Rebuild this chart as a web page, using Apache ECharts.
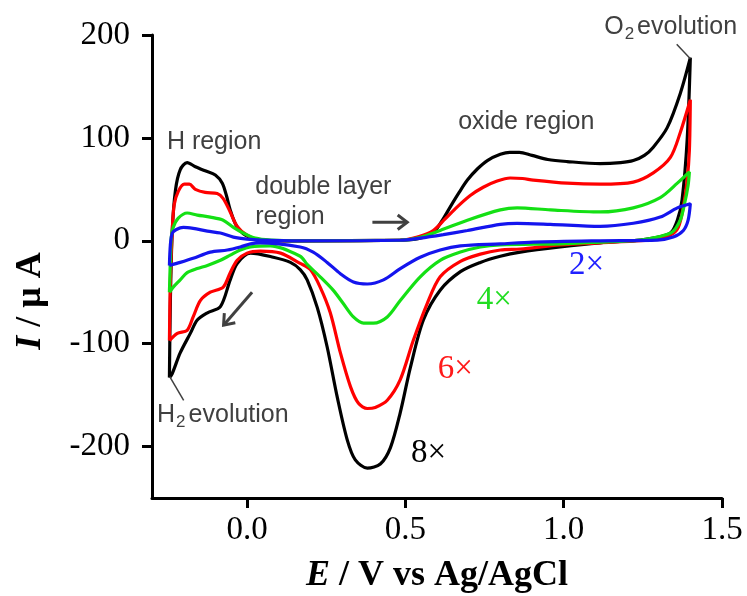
<!DOCTYPE html>
<html>
<head>
<meta charset="utf-8">
<script src="https://cdn.jsdelivr.net/npm/echarts@6/dist/echarts.min.js"></script>
<style>
  html, body { margin: 0; padding: 0; background: #fff; }
  #cv { width: 747px; height: 596px; }
</style>
</head>
<body>
<div id="cv"></div>
<script>
// tick values
var xTicks = [0, 0.5, 1.0, 1.5];
var yTicks = [-200, -100, 0, 100, 200];

// CV loops, [E (V), I (uA)], anodic sweep then cathodic sweep
var curve8x = [
  [-0.245,-133],[-0.242,-58],[-0.236,10],[-0.226,49],[-0.211,69],[-0.189,76],[-0.163,72],[-0.132,68],
  [-0.100,64],[-0.078,56],[-0.065,44],[-0.053,30],[-0.034,15],[-0.005,5.5],[0.042,0.7],[0.168,0],
  [0.484,0.7],[0.540,2],[0.588,8],[0.615,19],[0.642,33],[0.670,47],[0.696,59],[0.728,70],[0.759,78],
  [0.800,84],[0.830,86],[0.860,86],[0.900,83],[0.950,79],[1.011,77],[1.115,75],[1.180,76],[1.220,78],
  [1.255,83],[1.283,91],[1.327,110],[1.368,143],[1.400,178],
  [1.390,98],[1.374,40],[1.359,20],[1.337,7.5],[1.283,2.6],[1.242,0.7],[1.115,-2],[0.989,-6],
  [0.863,-11],[0.800,-15],[0.737,-21],[0.674,-30],[0.610,-48],[0.557,-77],[0.516,-123],[0.484,-167],
  [0.453,-201],[0.421,-217],[0.380,-221],[0.342,-213],[0.317,-194],[0.285,-152],[0.253,-103],
  [0.222,-65],[0.190,-38],[0.168,-28],[0.137,-21],[0.083,-16],[0.011,-12],[-0.031,-22],[-0.053,-38],
  [-0.084,-64],[-0.125,-70],[-0.157,-77],[-0.179,-90],[-0.211,-109],[-0.236,-129],[-0.245,-133]
];
var curve6x = [
  [-0.245,-97],[-0.242,-38],[-0.236,10],[-0.230,35],[-0.217,48],[-0.198,55],[-0.182,55],[-0.163,50],
  [-0.132,47],[-0.094,46],[-0.075,41],[-0.053,28],[-0.031,14],[0,5.5],[0.042,0.7],[0.168,0],
  [0.484,0.5],[0.538,3.6],[0.588,10],[0.625,21],[0.664,33],[0.705,44],[0.746,52],[0.790,58],[0.831,61],
  [0.870,60.5],[0.904,59],[1.011,56],[1.115,55],[1.220,57],[1.283,66],[1.337,81],[1.368,105],[1.400,137],
  [1.397,88],[1.390,59],[1.378,33],[1.362,13],[1.337,5.5],[1.290,1.6],[1.242,0],[1.115,-2],
  [0.989,-4],[0.863,-8],[0.800,-9],[0.737,-13],[0.674,-20],[0.610,-35],[0.569,-61],[0.525,-97],
  [0.484,-135],[0.443,-155],[0.405,-162],[0.380,-163],[0.352,-158],[0.327,-142],[0.295,-109],
  [0.263,-70],[0.231,-45],[0.200,-28],[0.168,-22],[0.106,-12],[0.042,-10],[0,-12],[-0.031,-19],
  [-0.053,-31],[-0.075,-45],[-0.116,-50],[-0.147,-58],[-0.170,-74],[-0.189,-87],[-0.220,-90],[-0.245,-97]
];
var curve4x = [
  [-0.245,-50],[-0.242,-19],[-0.239,3.6],[-0.233,13],[-0.217,22],[-0.189,27],[-0.157,25],[-0.116,23],
  [-0.075,20],[-0.043,13],[-0.012,7.5],[0.026,2.6],[0.074,0.7],[0.168,0],[0.484,0.5],[0.538,2.6],
  [0.610,10],[0.696,20],[0.800,30],[0.853,32],[0.958,30],[1.115,28],[1.220,32],[1.305,42],[1.359,56],[1.397,67],
  [1.393,54],[1.381,35],[1.368,20],[1.343,8.5],[1.296,3.6],[1.242,0.7],[1.115,-1.3],[0.989,-3],
  [0.800,-4],[0.737,-6],[0.674,-11],[0.610,-19],[0.547,-35],[0.484,-58],[0.443,-74],[0.399,-80],
  [0.368,-80],[0.336,-74],[0.304,-61],[0.272,-48],[0.231,-35],[0.190,-23],[0.168,-15],[0.074,-5],
  [0.011,-6],[-0.021,-9],[-0.053,-14],[-0.084,-19],[-0.125,-24],[-0.157,-27],[-0.189,-31],
  [-0.211,-38],[-0.233,-45],[-0.245,-50]
];
var curve2x = [
  [-0.245,-24],[-0.242,-4],[-0.236,7.5],[-0.223,11],[-0.201,13],[-0.170,12],[-0.125,9.4],[-0.084,7.5],
  [-0.043,3.6],[0,1.6],[0.042,0.7],[0.168,0],[0.484,0.5],[0.547,2.6],[0.620,6],[0.696,10],[0.800,16],
  [0.853,17],[0.958,16],[1.115,14],[1.220,17],[1.305,23],[1.359,32],[1.400,36],
  [1.393,20],[1.378,10],[1.346,3.6],[1.296,0.7],[1.115,0],[0.904,-1.3],[0.800,-3],[0.674,-5],
  [0.610,-9],[0.547,-16],[0.484,-27],[0.431,-38],[0.380,-42],[0.336,-40],[0.295,-32],[0.253,-21],
  [0.209,-11],[0.168,-6],[0.042,-2],[0.011,-3],[-0.021,-6],[-0.062,-9],[-0.116,-11],[-0.170,-17],
  [-0.211,-21],[-0.245,-24]
];

var curveNames = ['8×', '6×', '4×', '2×'];
var curveColors = ['#000000', '#ff0000', '#14e014', '#1414ee'];
var curveLabelColors = ['#000000', '#ff1a1a', '#22dd22', '#2020ff'];
// label anchors [E, I]
var curveLabelPos = [[0.573, -207], [0.658, -125], [0.781, -58], [1.072, -24]];

var serif = '"Liberation Serif", "Times New Roman", serif';
var sans = '"Liberation Sans", Arial, sans-serif';
var noteColor = '#404040';

var chart = echarts.init(document.getElementById('cv'));

var series = [curve8x, curve6x, curve4x, curve2x].map(function (d, i) {
  return {
    name: curveNames[i],
    type: 'line',
    data: d,
    showSymbol: false,
    smooth: 0.3,
    clip: false,
    lineStyle: { color: curveColors[i], width: 3.2 },
    z: 2 + i
  };
});

var option = {
  animation: false,
  backgroundColor: '#fff',
  grid: { left: 152, right: 25, top: 35, bottom: 98 },
  xAxis: {
    type: 'value',
    min: -0.3,
    max: 1.5,
    axisLine: { show: true, onZero: false, lineStyle: { color: '#000', width: 3 } },
    axisTick: { show: true, length: 10, customValues: xTicks, lineStyle: { color: '#000', width: 3 } },
    axisLabel: {
      customValues: xTicks,
      formatter: function (v) { return v.toFixed(1); },
      fontFamily: serif, fontSize: 33, color: '#000', margin: 16
    },
    splitLine: { show: false }
  },
  yAxis: {
    type: 'value',
    min: -250,
    max: 200,
    axisLine: { show: true, onZero: false, lineStyle: { color: '#000', width: 3 } },
    axisTick: { show: true, length: 10, customValues: yTicks, lineStyle: { color: '#000', width: 3 } },
    axisLabel: {
      customValues: yTicks,
      fontFamily: serif, fontSize: 33, color: '#000', margin: 22
    },
    splitLine: { show: false }
  },
  series: series
};
chart.setOption(option);

function px(e, i) {
  return chart.convertToPixel({ xAxisIndex: 0, yAxisIndex: 0 }, [e, i]);
}

function note(text, e, i, extra) {
  var p = px(e, i);
  var st = {
    text: text, fill: noteColor, fontFamily: sans, fontSize: 25,
    align: 'left', verticalAlign: 'middle'
  };
  if (extra) { for (var k in extra) st[k] = extra[k]; }
  return { type: 'text', x: p[0], y: p[1], z: 20, style: st };
}

function seg(a, b, w) {
  var p1 = px(a[0], a[1]), p2 = px(b[0], b[1]);
  return {
    type: 'line', z: 20,
    shape: { x1: p1[0], y1: p1[1], x2: p2[0], y2: p2[1] },
    style: { stroke: noteColor, lineWidth: w || 1.5 }
  };
}

// arrow with open head at 'b'
function arrow(a, b) {
  var p1 = px(a[0], a[1]), p2 = px(b[0], b[1]);
  var ang = Math.atan2(p2[1] - p1[1], p2[0] - p1[0]);
  var hl = 12, ha = 0.65;
  var h1 = [p2[0] - hl * Math.cos(ang - ha), p2[1] - hl * Math.sin(ang - ha)];
  var h2 = [p2[0] - hl * Math.cos(ang + ha), p2[1] - hl * Math.sin(ang + ha)];
  return [
    { type: 'line', z: 20, shape: { x1: p1[0], y1: p1[1], x2: p2[0], y2: p2[1] },
      style: { stroke: noteColor, lineWidth: 3 } },
    { type: 'polyline', z: 20, shape: { points: [h1, p2, h2] },
      style: { stroke: noteColor, lineWidth: 3, fill: null } }
  ];
}

var subRich = {
  n: { fontFamily: sans, fontSize: 25, fill: noteColor },
  s: { fontFamily: sans, fontSize: 17, fill: noteColor, padding: [16, 3, 0, 1] }
};

var graphics = [
  note('H region', -0.253, 96),
  note('double layer', 0.026, 52.5),
  note('region', 0.026, 23.3),
  note('oxide region', 0.667, 115),
  note('{n|O}{s|2}{n|evolution}', 1.128, 208, { rich: subRich }),
  note('{n|H}{s|2}{n|evolution}', -0.284, -169, { rich: subRich }),
  seg([1.357, 191], [1.400, 177]),
  seg([-0.244, -132], [-0.200, -155])
];
graphics = graphics.concat(arrow([0.396, 18], [0.506, 18]));
graphics = graphics.concat(arrow([0.016, -50], [-0.074, -82]));

curveNames.forEach(function (n, i) {
  var p = px(curveLabelPos[i][0], curveLabelPos[i][1]);
  graphics.push({
    type: 'text', x: p[0], y: p[1], z: 20,
    style: { text: n, fill: curveLabelColors[i], fontFamily: serif, fontSize: 33,
      align: 'center', verticalAlign: 'middle' }
  });
});

// axis titles
graphics.push({
  type: 'text', x: 437, y: 576, z: 20,
  style: {
    text: '{i|E} / V vs Ag/AgCl', fill: '#000', fontFamily: serif, fontSize: 36, fontWeight: 'bold',
    align: 'center', verticalAlign: 'middle',
    rich: { i: { fontFamily: serif, fontSize: 36, fontWeight: 'bold', fontStyle: 'italic', fill: '#000' } }
  }
});
graphics.push({
  type: 'text', x: 31, y: 301, z: 20, rotation: Math.PI / 2,
  style: {
    text: '{i|I} / μ A', fill: '#000', fontFamily: serif, fontSize: 36, fontWeight: 'bold',
    align: 'center', verticalAlign: 'middle',
    rich: { i: { fontFamily: serif, fontSize: 36, fontWeight: 'bold', fontStyle: 'italic', fill: '#000' } }
  }
});

chart.setOption({ graphic: graphics });
</script>
</body>
</html>
